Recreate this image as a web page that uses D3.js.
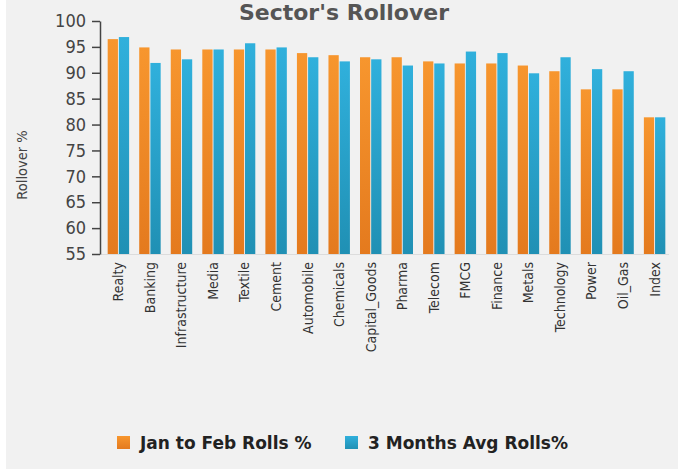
<!DOCTYPE html>
<html>
<head>
<meta charset="utf-8">
<script src="https://cdn.jsdelivr.net/npm/d3@7"></script>
<style>
  body { margin: 0; background: #fff; }
  svg { display: block; }
  .tick text { font-family: "DejaVu Sans Condensed", sans-serif; }
</style>
</head>
<body>
<svg id="chart"></svg>
<script>
// chart data
const sectors = ['Realty', 'Banking', 'Infrastructure', 'Media', 'Textile', 'Cement', 'Automobile', 'Chemicals',
	'Capital_Goods', 'Pharma', 'Telecom', 'FMCG', 'Finance', 'Metals', 'Technology', 'Power', 'Oil_Gas', 'Index'];
const janToFeb = [96.5, 94.9, 94.5, 94.5, 94.5, 94.5, 93.8, 93.4, 93.0, 93.0, 92.2, 91.8, 91.8, 91.4, 90.3, 86.8, 86.8, 81.4];
const threeMonthAvg = [96.9, 91.9, 92.6, 94.5, 95.7, 94.9, 93.0, 92.2, 92.6, 91.4, 91.8, 94.1, 93.8, 89.9, 93.0, 90.7, 90.3, 81.4];
const seriesNames = ['Jan to Feb Rolls %', '3 Months Avg Rolls%'];
const yTicks = [55, 60, 65, 70, 75, 80, 85, 90, 95, 100];

const width = 678, height = 469;
const margin = { top: 21, right: 7, bottom: 215, left: 100 };
const innerW = width - margin.left - margin.right;
const innerH = height - margin.top - margin.bottom;
const font = '"DejaVu Sans Condensed", sans-serif';

const svg = d3.select('#chart').attr('width', width).attr('height', height);

// background panel (small white strip on the left)
svg.append('rect').attr('x', 6).attr('y', 0).attr('width', width - 6).attr('height', height).attr('fill', '#f1f1f1');

// gradients for bars
const defs = svg.append('defs');
const colors = [['#f7962e', '#e47a1e'], ['#30b0dc', '#2090b4']];
colors.forEach((c, i) => {
	const g = defs.append('linearGradient').attr('id', 'grad' + i).attr('x1', 0).attr('y1', 0).attr('x2', 0).attr('y2', 1);
	g.append('stop').attr('offset', '0%').attr('stop-color', c[0]);
	g.append('stop').attr('offset', '100%').attr('stop-color', c[1]);
});

const xScale = d3.scaleBand().domain(sectors).range([2, innerW]).paddingInner(0.32).paddingOuter(0.18);
const xSub = d3.scaleBand().domain([0, 1]).range([0, xScale.bandwidth()]).paddingInner(0.08);
const yScale = d3.scaleLinear().domain([55, 100]).range([innerH, 0]);

const chart = svg.append('g').attr('transform', `translate(${margin.left},${margin.top})`);

// title
svg.append('text')
	.attr('x', 344).attr('y', 20)
	.attr('text-anchor', 'middle')
	.style('font-family', '"DejaVu Sans", sans-serif')
	.style('font-size', '22px')
	.style('font-weight', 'bold')
	.attr('fill', '#555')
	.text("Sector's Rollover");

// faint baseline
chart.append('line')
	.attr('x1', 0).attr('x2', innerW - 2)
	.attr('y1', innerH + 0.5).attr('y2', innerH + 0.5)
	.attr('stroke', '#dcdcdc');

// bars
const groups = chart.selectAll('.barGroup')
	.data(sectors.map((s, i) => ({ key: s, values: [janToFeb[i], threeMonthAvg[i]] })))
	.join('g')
	.attr('class', 'barGroup')
	.attr('transform', d => `translate(${xScale(d.key)},0)`);

groups.selectAll('rect')
	.data(d => d.values.map((v, j) => ({ j: j, value: v })))
	.join('rect')
	.attr('x', d => xSub(d.j))
	.attr('y', d => yScale(d.value))
	.attr('width', xSub.bandwidth())
	.attr('height', d => innerH - yScale(d.value))
	.attr('fill', d => `url(#grad${d.j})`);

// y axis
const yAxis = d3.axisLeft(yScale).tickValues(yTicks).tickSize(8).tickSizeOuter(0).tickPadding(6);
const yAxisGroup = chart.append('g').call(yAxis);
yAxisGroup.select('.domain').attr('stroke', '#444').attr('stroke-width', 1.5);
yAxisGroup.selectAll('.tick line').attr('stroke', '#444').attr('stroke-width', 1.5);
yAxisGroup.selectAll('.tick text').attr('fill', '#444').style('font-size', '18px');

// x axis labels
const xAxis = d3.axisBottom(xScale).tickSize(0).tickPadding(0);
const xAxisGroup = chart.append('g').attr('transform', `translate(0,${innerH})`).call(xAxis);
xAxisGroup.select('.domain').remove();
xAxisGroup.selectAll('.tick text')
	.attr('fill', '#333')
	.style('font-size', '14px')
	.style('text-anchor', 'end')
	.attr('dx', '-8px')
	.attr('dy', '0.35em')
	.attr('y', 0)
	.attr('transform', 'rotate(-90)');

// y axis title
svg.append('text')
	.attr('transform', 'translate(27,165) rotate(-90)')
	.attr('text-anchor', 'middle')
	.style('font-family', font)
	.style('font-size', '14.5px')
	.attr('fill', '#444')
	.text('Rollover %');

// legend
const legendX = [117, 345];
const legend = svg.selectAll('.legend')
	.data(seriesNames)
	.join('g')
	.attr('class', 'legend')
	.attr('transform', (d, i) => `translate(${legendX[i]},436)`);
legend.append('rect').attr('width', 13).attr('height', 13).attr('fill', (d, i) => `url(#grad${i})`);
legend.append('text')
	.attr('x', 23).attr('y', 7)
	.attr('dy', '0.35em')
	.style('font-family', '"DejaVu Sans", sans-serif')
	.style('font-size', '17px')
	.style('font-weight', 'bold')
	.attr('fill', '#222')
	.text(d => d);
</script>
</body>
</html>
